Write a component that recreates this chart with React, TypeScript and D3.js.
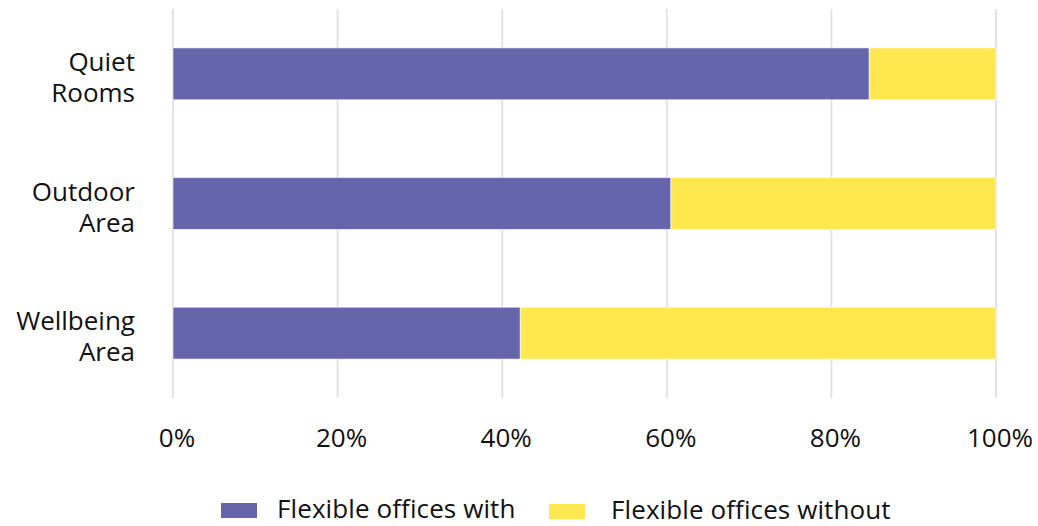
import React from "react";
import * as d3 from "d3";

const categories = ["Quiet Rooms", "Outdoor Area", "Wellbeing Area"];
const categoryLines = [["Quiet", "Rooms"], ["Outdoor", "Area"], ["Wellbeing", "Area"]];
const withValues = [84.6, 60.5, 42.2];
const withoutValues = [15.4, 39.5, 57.8];
const ticks = [0, 20, 40, 60, 80, 100];
const seriesNames = ["Flexible offices with", "Flexible offices without"];
const colors = ["#6664AB", "#FEE74F"];

const W = 1038, H = 526;
const FONT = "'Open Sans', sans-serif";
const FS = 26;

export default function App() {
  const x = d3.scaleLinear().domain([0, 100]).range([173, 996]);
  const y = d3.scaleBand().domain(categories).range([9, 398]).paddingInner(0.6).paddingOuter(0.3);
  const stackData = categories.map((c, i) => ({ cat: c, with: withValues[i], without: withoutValues[i] }));
  const stacked = d3.stack<any>().keys(["with", "without"])(stackData);
  const bw = y.bandwidth();
  return (
    <svg width={W} height={H} style={{ position: "absolute", left: 0, top: 0, background: "#fff" }} fontFamily={FONT}>
      {ticks.map((t) => (
        <line key={t} x1={x(t)} x2={x(t)} y1={9} y2={398} stroke="#e3e3e3" strokeWidth={2} />
      ))}
      {stacked.map((s, si) =>
        s.map((d, i) => (
          <rect
            key={si + "-" + i}
            x={x(d[0])}
            y={y(categories[i])!}
            width={x(d[1]) - x(d[0])}
            height={bw}
            fill={colors[si]}
            stroke="#ffffff"
            strokeOpacity={0.6}
            strokeWidth={1}
          />
        ))
      )}
      {categories.map((c, i) => {
        const cy = y(c)! + bw / 2;
        return (
          <text key={c} x={135} y={cy} textAnchor="end" fontSize={FS} fill="#111">
            <tspan x={135} dy={-3}>{categoryLines[i][0]}</tspan>
            <tspan x={135} dy={31}>{categoryLines[i][1]}</tspan>
          </text>
        );
      })}
      {ticks.map((t) => (
        <text key={"l" + t} x={x(t) + 4} y={447} textAnchor="middle" fontSize={FS} fill="#111">
          {t + "%"}
        </text>
      ))}
      <rect x={221} y={503} width={36} height={15} fill={colors[0]} />
      <text x={277} y={518} fontSize={FS} letterSpacing={0.1} fill="#111">{seriesNames[0]}</text>
      <rect x={549} y={504} width={36} height={15} fill={colors[1]} />
      <text x={611} y={519} fontSize={FS} letterSpacing={0.1} fill="#111">{seriesNames[1]}</text>
    </svg>
  );
}
